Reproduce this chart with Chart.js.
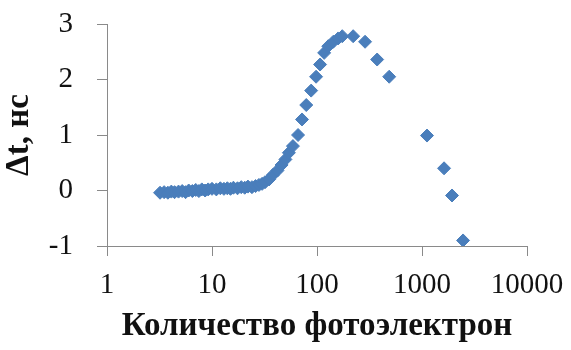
<!DOCTYPE html>
<html>
<head>
<meta charset="utf-8">
<script src="https://cdn.jsdelivr.net/npm/chart.js@4.4.1/dist/chart.umd.min.js"></script>
<style>
  html, body { margin: 0; padding: 0; background: #fff; }
  #wrap { width: 571px; height: 350px; }
</style>
</head>
<body>
<div id="wrap"><canvas id="delay-chart"></canvas></div>
<script>
// photoelectron count and time shift (ns)
const npe = [3.2, 3.5, 3.8, 4.1, 4.4, 4.8, 5.2, 5.6, 6.0, 6.5, 7.0, 7.5, 8.0, 8.6, 9.2, 10, 11, 12, 13, 14,
    15, 16, 17.5, 19, 20.5, 22, 24, 26, 28, 30, 32, 35, 38, 42, 46, 50, 54, 59, 66, 72, 79,
    88, 98, 107, 117, 128, 143, 159, 174, 221, 287, 374, 487, 1116, 1622, 1932, 2460]
const dt = [-0.04, -0.03, -0.04, -0.02, -0.03, -0.02, -0.01, -0.03, 0.0, -0.01, 0.01, -0.01, 0.02, 0.0, 0.02, 0.03, 0.02, 0.04, 0.03, 0.04,
    0.03, 0.05, 0.04, 0.06, 0.05, 0.07, 0.06, 0.08, 0.1, 0.12, 0.15, 0.2, 0.28, 0.36, 0.46, 0.56, 0.68, 0.8, 1.0, 1.28, 1.54,
    1.8, 2.05, 2.27, 2.48, 2.6, 2.68, 2.74, 2.78, 2.78, 2.68, 2.36, 2.05, 0.99, 0.4, -0.09, -0.9]
const xTicks = [1, 10, 100, 1000, 10000]

const points = npe.map((v, i) => ({ x: v, y: dt[i] }))

Chart.defaults.font.family = "'Liberation Serif', 'Times New Roman', serif"
Chart.defaults.color = '#111'

const axisColor = '#8a8a8a'

const ctx = document.getElementById('delay-chart');
new Chart(ctx, {
    type: 'scatter',
    data: {
        datasets: [{
            data: points,
            pointStyle: 'rectRot',
            pointRadius: 6.5,
            pointHoverRadius: 6.5,
            backgroundColor: '#4a7ebb',
            borderColor: '#4a7ebb',
            borderWidth: 1
        }]
    },
    options: {
        responsive: true,
        maintainAspectRatio: false,
        animation: false,
        layout: { padding: { top: 24, right: 44, left: 0, bottom: 0 } },
        plugins: {
            legend: { display: false },
            tooltip: { enabled: false }
        },
        scales: {
            x: {
                type: 'logarithmic',
                min: 1,
                max: 10000,
                afterBuildTicks: (scale) => {
                    scale.ticks = xTicks.map(v => ({ value: v }))
                },
                afterFit: (scale) => {
                    scale.height = 104
                    scale.paddingLeft = 0
                    scale.paddingRight = 0
                },
                border: { display: true, color: axisColor, width: 1 },
                grid: { drawOnChartArea: false, drawTicks: true, tickLength: 10, color: axisColor },
                ticks: {
                    font: { size: 29 },
                    padding: 12,
                    maxRotation: 0,
                    autoSkip: false,
                    callback: (v) => String(v)
                },
                title: {
                    display: true,
                    text: 'Количество фотоэлектрон',
                    font: { size: 33, weight: 'bold' },
                    padding: { top: 0, bottom: 4 }
                }
            },
            y: {
                min: -1,
                max: 3,
                afterFit: (scale) => {
                    scale.width = 107
                    scale.paddingTop = 0
                    scale.paddingBottom = 0
                },
                border: { display: true, color: axisColor, width: 1 },
                grid: { drawOnChartArea: false, drawTicks: true, tickLength: 10, color: axisColor },
                ticks: {
                    stepSize: 1,
                    font: { size: 29 },
                    padding: 24
                },
                title: {
                    display: true,
                    text: 'Δt, нс',
                    font: { size: 33, weight: 'bold' },
                    padding: { top: 0, bottom: 0 }
                }
            }
        }
    }
});
</script>
</body>
</html>
